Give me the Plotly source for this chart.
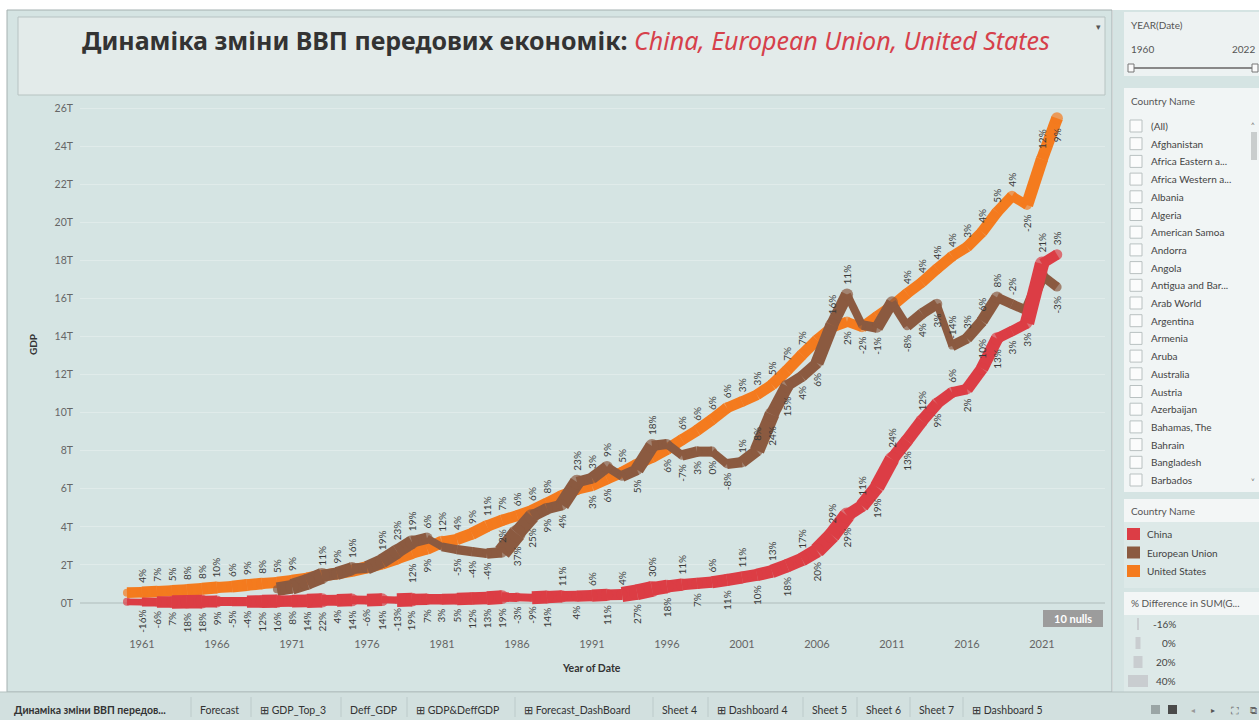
import numpy as np
import pandas as pd
import plotly.graph_objects as go

# GDP, trillions of current US$
years = list(range(1960, 2023))
us_gdp = [0.543, 0.563, 0.605, 0.638, 0.686, 0.744, 0.815, 0.862, 0.943, 1.019,
          1.073, 1.165, 1.279, 1.425, 1.545, 1.685, 1.873, 2.082, 2.352, 2.627,
          2.857, 3.207, 3.343, 3.634, 4.037, 4.339, 4.580, 4.855, 5.236, 5.642,
          5.963, 6.158, 6.520, 6.859, 7.287, 7.640, 8.073, 8.578, 9.063, 9.631,
          10.251, 10.582, 10.936, 11.458, 12.214, 13.037, 13.815, 14.475, 14.770, 14.478,
          15.049, 15.600, 16.254, 16.843, 17.551, 18.206, 18.695, 19.480, 20.527, 21.373,
          20.894, 23.315, 25.463]
china_gdp = [0.0597, 0.0500, 0.0472, 0.0507, 0.0597, 0.0704, 0.0767, 0.0729, 0.0700, 0.0787,
             0.0915, 0.0986, 0.1122, 0.1369, 0.1422, 0.1617, 0.1517, 0.1727, 0.1495, 0.1783,
             0.1911, 0.1959, 0.2051, 0.2307, 0.2599, 0.3095, 0.3008, 0.2729, 0.3124, 0.3478,
             0.3609, 0.3834, 0.4269, 0.4447, 0.5643, 0.7345, 0.8637, 0.9616, 1.0290, 1.0940,
             1.2113, 1.3394, 1.4706, 1.6603, 1.9553, 2.2860, 2.7521, 3.5503, 4.5943, 5.1017,
             6.0872, 7.5515, 8.5322, 9.5704, 10.4757, 11.0616, 11.2333, 12.3104, 13.8948, 14.2800,
             14.6877, 17.8205, 18.3000]
eu_years = list(range(1970, 2023))
eu_gdp = [0.72, 0.85, 1.10, 1.42, 1.55, 1.80, 1.85, 2.20, 2.70, 3.20,
          3.40, 2.95, 2.80, 2.70, 2.60, 2.66, 3.65, 4.55, 4.95, 5.15,
          6.35, 6.55, 7.15, 6.65, 7.00, 8.25, 8.35, 7.75, 7.95, 7.95,
          7.30, 7.40, 8.00, 9.90, 11.40, 11.90, 12.60, 14.60, 16.20, 14.60,
          14.45, 15.80, 14.55, 15.20, 15.70, 13.50, 13.90, 14.80, 16.05, 15.70,
          15.35, 17.20, 16.60]

country_list = ['(All)', 'Afghanistan', 'Africa Eastern a...', 'Africa Western a...', 'Albania',
                'Algeria', 'American Samoa', 'Andorra', 'Angola', 'Antigua and Bar...',
                'Arab World', 'Argentina', 'Armenia', 'Aruba', 'Australia', 'Austria',
                'Azerbaijan', 'Bahamas, The', 'Bahrain', 'Bangladesh', 'Barbados']
legend_names = ['China', 'European Union', 'United States']
size_labels = ['-16%', '0%', '20%', '40%']
tabs = ['Динаміка зміни ВВП передов...', 'Forecast', '⊞ GDP_Top_3', 'Deff_GDP', '⊞ GDP&DeffGDP',
        '⊞ Forecast_DashBoard', 'Sheet 4', '⊞ Dashboard 4', 'Sheet 5', 'Sheet 6', 'Sheet 7',
        '⊞ Dashboard 5']
tab_x = [12, 198, 258, 348, 414, 522, 660, 715, 810, 864, 917, 970]

colors = {'China': '#dc3d45', 'European Union': '#8b5a40', 'United States': '#f47b1e'}
BG = '#d5e4e3'
FONT = 'Lato'

W, H = 1259, 720
# plot area in screen pixels
PL, PR, PT, PB = 80, 1105, 100, 630
X_RANGE = [1956.87, 2025.2]
Y_RANGE = [-1.42, 26.42]

def px(x):
    return (x - PL) / (PR - PL)
def py(y):
    return (PB - y) / (PB - PT)
def data_px(xv, yv):
    sx = PL + (xv - X_RANGE[0]) / (X_RANGE[1] - X_RANGE[0]) * (PR - PL)
    sy = PB - (yv - Y_RANGE[0]) / (Y_RANGE[1] - Y_RANGE[0]) * (PB - PT)
    return sx, sy

shapes = []
annotations = []

def rect(x0, y0, x1, y1, fill, line=None, lw=1, layer='below'):
    shapes.append(dict(type='rect', xref='paper', yref='paper', x0=px(x0), x1=px(x1),
                       y0=py(y1), y1=py(y0), fillcolor=fill, layer=layer,
                       line=dict(color=line or fill, width=lw if line else 0)))

def text(x, y, s, size=10.5, color='#444', anchor='left', bold=False, family=FONT, angle=0):
    annotations.append(dict(xref='paper', yref='paper', x=px(x), y=py(y), text=f'<b>{s}</b>' if bold else s,
                            showarrow=False, xanchor=anchor, yanchor='middle', textangle=angle,
                            font=dict(size=size, color=color, family=family)))

fig = go.Figure()

def width_of(p):
    if np.isnan(p):
        return 8.0
    return float(np.clip(10 + 0.2 * p * 100, 6.5, 18))

series = [('United States', years, us_gdp), ('European Union', eu_years, eu_gdp), ('China', years, china_gdp)]
info = {}
for name, xs, ys in series:
    pct = pd.Series(ys, index=xs).pct_change().values
    w = [width_of(p) for p in pct]
    info[name] = (xs, ys, pct, w)
    col = colors[name]
    for i in range(1, len(xs)):
        fig.add_trace(go.Scatter(x=[xs[i - 1], xs[i]], y=[ys[i - 1], ys[i]], mode='lines',
                                 line=dict(color=col, width=w[i]), hoverinfo='skip', showlegend=False))
    fig.add_trace(go.Scatter(x=xs, y=ys, mode='markers', name=name, showlegend=False,
                             marker=dict(color=col, size=w, line=dict(width=0)),
                             hovertemplate=name + '<br>%{x}: %{y:.2f}T<extra></extra>'))

# line samples in pixels, used to keep labels off the other series
samples = {}
for name, (xs, ys, pct, w) in info.items():
    pts = []
    for i in range(1, len(xs)):
        a = data_px(xs[i - 1], ys[i - 1])
        b = data_px(xs[i], ys[i])
        n = int(max(abs(b[0] - a[0]), abs(b[1] - a[1])) / 2) + 1
        for t in np.linspace(0, 1, n + 1):
            pts.append((a[0] + (b[0] - a[0]) * t, a[1] + (b[1] - a[1]) * t, w[i] / 2))
    samples[name] = pts

placed = []

def hits(box, own):
    x0, y0, x1, y1 = box
    for b in placed:
        if not (x1 < b[0] or x0 > b[2] or y1 < b[1] or y0 > b[3]):
            return True
    if y0 < 98:
        return True
    for name, pts in samples.items():
        if name == own:
            continue
        for (sx, sy, hw) in pts:
            if x0 - hw < sx < x1 + hw and y0 - hw < sy < y1 + hw:
                return True
    return False

def prefer_above(name, year, p):
    if name == 'China':
        if year < 1989:
            return False
        return year % 2 == 1 or year == 2022
    return p >= 0

for name in ['China', 'United States', 'European Union']:
    xs, ys, pct, w = info[name]
    for i in range(1, len(xs)):
        lbl = f'{pct[i] * 100:.0f}%'
        sx, sy = data_px(xs[i], ys[i])
        h = 5.4 * sum(ch.isdigit() for ch in lbl) + 8.5 + (3.5 if '-' in lbl else 0)
        off = w[i] / 2 + 2
        up0 = prefer_above(name, xs[i], pct[i])
        for up in (up0, not up0):
            box = (sx - 6, sy - off - h, sx + 6, sy - off) if up else (sx - 6, sy + off, sx + 6, sy + off + h)
            if not hits(box, name):
                placed.append(box)
                annotations.append(dict(x=xs[i], y=ys[i], xref='x', yref='y', text=lbl,
                                        textangle=-90, showarrow=False, yanchor='bottom' if up else 'top',
                                        yshift=off if up else -off,
                                        font=dict(size=10, color='#3a3a3a', family=FONT)))
                break

# dashboard background and frames
rect(7, 10, 1112, 692, BG, '#a5b0b0')
rect(1113, 10, 1259, 692, BG)
rect(18, 17, 1105, 95, '#e3ebea', '#b7c3c2')
text(566, 40, "<b>Динаміка зміни ВВП передових економік: </b><i><span style='color:#d6404a'>"
     "China, European Union, United States</span></i>", size=25, color='#333', anchor='center',
     family='Noto Sans')
text(1098, 27, '▾', size=9, color='#555', anchor='center')

# axis titles
text(33, 345, 'GDP', size=10, color='#333', anchor='center', bold=True, angle=-90)
text(591, 668, 'Year of Date', size=10.5, color='#333', anchor='center', bold=True)

# null indicator
rect(1043, 610, 1103, 627, '#9c9c9c')
text(1073, 618.5, '10 nulls', size=11, color='white', anchor='center', bold=True)

# year filter
rect(1124, 12, 1259, 76, '#edf2f2')
text(1129, 25, 'YEAR(Date)', size=10, color='#555')
text(1129, 49, '1960', size=10, color='#555')
text(1257, 49, '2022', size=10, color='#555', anchor='right')
shapes.append(dict(type='line', xref='paper', yref='paper', x0=px(1133), x1=px(1255), y0=py(68), y1=py(68),
                   line=dict(color='#888', width=2), layer='below'))
rect(1128, 64, 1134, 72, '#fafafa', '#777')
rect(1252, 64, 1258, 72, '#fafafa', '#777')

# country filter
rect(1124, 88, 1259, 492, '#f1f5f5')
text(1129, 101, 'Country Name', size=10, color='#555')
for i, c in enumerate(country_list):
    yy = 126 + i * 17.7
    rect(1130, yy - 6, 1142, yy + 6, '#fbfcfc', '#b9c1c1')
    text(1149, yy, c, size=10, color='#444')
rect(1251, 132, 1257, 160, '#c9cdcd')
text(1253, 125, '˄', size=8, color='#666', anchor='center')
text(1253, 481, '˅', size=8, color='#666', anchor='center')

# colour legend
rect(1124, 499, 1259, 522, '#f3f6f6')
rect(1124, 522, 1259, 588, '#dde9e8')
text(1129, 511, 'Country Name', size=10, color='#555')
for i, n in enumerate(legend_names):
    yy = 534 + i * 18.5
    rect(1127, yy - 6, 1140, yy + 6, colors[n])
    text(1145, yy, n, size=10, color='#444')

# size legend
rect(1124, 592, 1259, 615, '#f3f6f6')
rect(1124, 615, 1259, 692, '#dde9e8')
text(1129, 603, '% Difference in SUM(G...', size=10, color='#555')
size_w = [2, 5, 9, 20]
for i, lab in enumerate(size_labels):
    yy = 624 + i * 19
    rect(1138 - size_w[i] / 2, yy - 6, 1138 + size_w[i] / 2, yy + 6, '#c9cdd0')
    text(1178, yy, lab, size=10, color='#444', anchor='right')

# sheet tabs
rect(0, 692, 1259, 720, '#d2e0df')
shapes.append(dict(type='line', xref='paper', yref='paper', x0=px(0), x1=px(1259), y0=py(692), y1=py(692),
                   line=dict(color='#b3c1c0', width=1), layer='below'))
for i, (t, x) in enumerate(zip(tabs, tab_x)):
    text(x, 710, t, size=10.5, color='#333', bold=(i == 0))
    if i > 0:
        shapes.append(dict(type='line', xref='paper', yref='paper', x0=px(x - 7), x1=px(x - 7),
                           y0=py(697), y1=py(717), line=dict(color='#bccaca', width=1), layer='below'))
rect(1151, 705, 1160, 714, '#9aa5a5')
rect(1168, 705, 1177, 714, '#4a4a4a')
text(1193, 710, '◂', size=8, color='#999', anchor='center')
text(1213, 710, '▸', size=8, color='#555', anchor='center')
text(1235, 710, '⛶', size=11, color='#666', anchor='center')
text(1253, 710, '⧉', size=10, color='#666', anchor='center')

y_ticks = list(range(0, 27, 2))
fig.update_layout(
    width=W, height=H,
    margin=dict(l=PL, r=W - PR, t=PT, b=H - PB),
    paper_bgcolor='white', plot_bgcolor=BG,
    showlegend=False,
    xaxis=dict(range=X_RANGE, tickvals=list(range(1961, 2022, 5)), showgrid=False,
               zeroline=False, showline=False, ticks='', ticklabelstandoff=6,
               tickfont=dict(size=11, color='#666', family=FONT)),
    yaxis=dict(range=Y_RANGE, tickvals=y_ticks, ticktext=[f'{v}T' for v in y_ticks],
               gridcolor='#e0ebea', gridwidth=1, zeroline=True, zerolinecolor='#c2d0cf',
               showline=False, ticks='', ticklabelstandoff=6,
               tickfont=dict(size=10.5, color='#666', family=FONT)),
    shapes=shapes, annotations=annotations,
)

# drop the page's default body margin so the figure fills the window
fig.write_html('out.html', config={'displayModeBar': False},
               post_script="document.body.style.margin='0px';document.body.style.overflow='hidden';")
